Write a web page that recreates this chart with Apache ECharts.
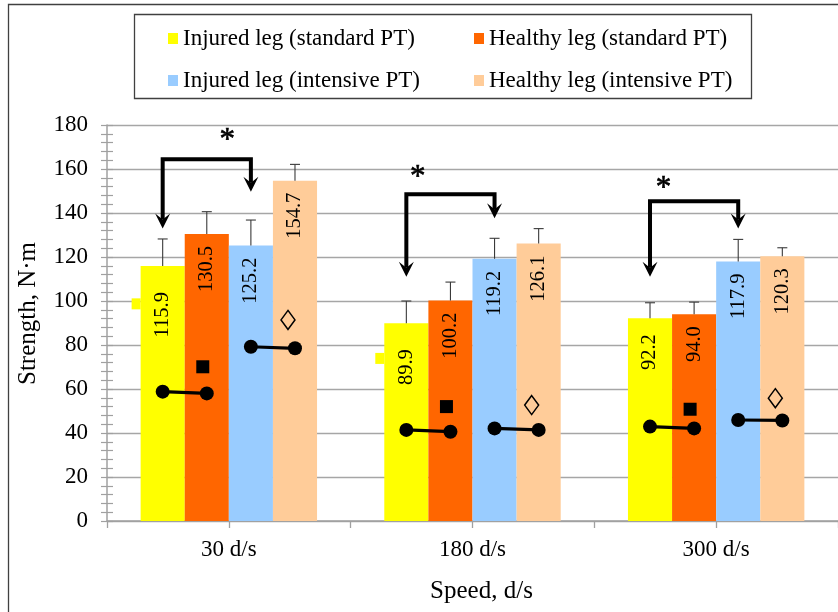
<!DOCTYPE html>
<html><head><meta charset="utf-8">
<script src="https://cdn.jsdelivr.net/npm/echarts@6/dist/echarts.min.js"></script>
<style>html,body{margin:0;padding:0;background:#fff}#c{width:838px;height:612px}</style>
</head><body><div id="c"></div>
<script>
// ---------- data ----------
const categories = ['30 d/s', '180 d/s', '300 d/s'];
const seriesNames = ['Injured leg (standard PT)', 'Healthy leg (standard PT)', 'Injured leg (intensive PT)', 'Healthy leg (intensive PT)'];
const injuredStd = [115.9, 89.9, 92.2];
const healthyStd = [130.5, 100.2, 94.0];
const injuredInt = [125.2, 119.2, 117.9];
const healthyInt = [154.7, 126.1, 120.3];
const errTopInjuredStd = [128.2, 100.0, 99.2];
const errTopHealthyStd = [140.6, 108.6, 99.5];
const errTopInjuredInt = [136.8, 128.5, 128.0];
const errTopHealthyInt = [162.1, 132.9, 124.2];
const stdPairLeft = [58.8, 41.4, 42.9];
const stdPairRight = [58.0, 40.6, 42.1];
const intPairLeft = [79.2, 42.1, 45.9];
const intPairRight = [78.5, 41.4, 45.7];
const squareMarks = [70.1, 52.0, 50.8];
const diamondMarks = [91.4, 52.7, 55.8];
const yellowTabs = [98.7, 73.9, null];
const bracketTop = [164.4, 148.5, 145.3];
const bracketLeftTip = [133.0, 111.0, 111.0];
const bracketRightTip = [149.7, 137.6, 133.0];
const asteriskX = [0.494, 1.275, 2.284];
const asteriskY = [175.5, 158.8, 153.8];
const yMin = 0, yMax = 180, yInterval = 20;

// ---------- style ----------
const FONT = 'Liberation Serif';
const colors = ['#FFFF00', '#FF6600', '#99CCFF', '#FFCC99'];
const BW = 0.181; // bar width as fraction of category
const labelGapInjuredStd = [26, 26, 16];
const slotX = (g, s) => g + 0.5 + (s - 1.5) * BW;

const barValues = [injuredStd, healthyStd, injuredInt, healthyInt];
const errTops = [errTopInjuredStd, errTopHealthyStd, errTopInjuredInt, errTopHealthyInt];

const barSeries = barValues.map((vals, s) => ({
  type: 'bar', name: seriesNames[s], xAxisIndex: 0, yAxisIndex: 0,
  barWidth: (BW * 100) + '%', barGap: '0%',
  itemStyle: { color: colors[s] },
  z: 2,
  label: {
    show: true, position: 'insideTop', rotate: 90, align: 'right', verticalAlign: 'middle',
    distance: 12, fontFamily: FONT, fontSize: 20.5, color: '#000',
    formatter: p => Number(p.value).toFixed(1)
  },
  data: vals.map((v, g) => s === 0 ? { value: v, label: { distance: labelGapInjuredStd[g] } } : v)
}));

const errData = [];
errTops.forEach((arr, s) => arr.forEach((t, g) => errData.push([slotX(g, s), barValues[s][g], t])));

const pairData = [];
for (let g = 0; g < 3; g++) {
  pairData.push([slotX(g, 0), stdPairLeft[g], slotX(g, 1), stdPairRight[g]]);
  pairData.push([slotX(g, 2), intPairLeft[g], slotX(g, 3), intPairRight[g]]);
}
const bracketData = bracketTop.map((t, g) => [slotX(g, 0), slotX(g, 2), t, bracketLeftTip[g], bracketRightTip[g]]);

const option = {
  animation: false,
  backgroundColor: '#fff',
  grid: { left: 107, right: -5, top: 125, bottom: 91 },
  graphic: [
    { type: 'rect', shape: { x: 8.5, y: 4.5, width: 900, height: 700 }, style: { fill: 'none', stroke: '#404040', lineWidth: 1.3 }, silent: true },
    { type: 'rect', shape: { x: 134.5, y: 14.5, width: 617, height: 84 }, style: { fill: 'none', stroke: '#404040', lineWidth: 1.3 }, silent: true }
  ],
  legend: [
    { data: [seriesNames[0], seriesNames[2]], orient: 'vertical', left: 163, top: 22, itemWidth: 10, itemHeight: 11, itemGap: 19, icon: 'rect',
      textStyle: { fontFamily: FONT, fontSize: 23, color: '#000' } },
    { data: [seriesNames[1], seriesNames[3]], orient: 'vertical', left: 469, top: 22, itemWidth: 10, itemHeight: 11, itemGap: 19, icon: 'rect',
      textStyle: { fontFamily: FONT, fontSize: 23, color: '#000' } }
  ],
  xAxis: [
    { type: 'category', data: categories, position: 'bottom', boundaryGap: true,
      axisLine: { show: true, lineStyle: { color: '#a0a0a0', width: 1.5 } },
      axisTick: { show: false },
      axisLabel: { fontFamily: FONT, fontSize: 23, color: '#000', margin: 17 },
      name: 'Speed, d/s', nameLocation: 'middle', nameGap: 58,
      nameTextStyle: { fontFamily: FONT, fontSize: 25, color: '#000', padding: [0, 0, 0, 18] } },
    { type: 'category', data: ['', '', '', '', '', ''], position: 'bottom', boundaryGap: true,
      axisLine: { show: false }, axisLabel: { show: false },
      axisTick: { show: true, interval: 0, length: 7, lineStyle: { color: '#a0a0a0', width: 1.3 } } },
    { type: 'value', min: 0, max: 3, position: 'bottom', show: false }
  ],
  yAxis: [
    { type: 'value', min: yMin, max: yMax, interval: yInterval, position: 'left',
      axisLine: { show: true, lineStyle: { color: '#a0a0a0', width: 1.5 } },
      axisTick: { show: true, length: 6, lineStyle: { color: '#a0a0a0', width: 1.2 } },
      minorTick: { show: true, splitNumber: 5, length: 6, lineStyle: { color: '#a0a0a0', width: 1.2 } },
      splitLine: { show: true, lineStyle: { color: '#a6a6a6', width: 1.3 } },
      axisLabel: { fontFamily: FONT, fontSize: 23, color: '#000', margin: 19 },
      name: 'Strength, N·m', nameLocation: 'middle', nameGap: 66,
      nameTextStyle: { fontFamily: FONT, fontSize: 25, color: '#000', padding: [0, 0, 0, 19] } },
    { type: 'value', min: yMin, max: yMax, interval: yInterval, position: 'left',
      axisLine: { show: false }, axisLabel: { show: false }, splitLine: { show: false },
      axisTick: { show: true, inside: true, length: 6, lineStyle: { color: '#a0a0a0', width: 1.2 } },
      minorTick: { show: true, splitNumber: 5, length: 6, lineStyle: { color: '#a0a0a0', width: 1.2 } } }
  ],
  series: barSeries.concat([
    { type: 'custom', name: 'err', xAxisIndex: 2, yAxisIndex: 0, z: 5, silent: true,
      data: errData,
      renderItem: (params, api) => {
        const p1 = api.coord([api.value(0), api.value(1)]);
        const p2 = api.coord([api.value(0), api.value(2)]);
        const st = { stroke: '#3a3a3a', lineWidth: 1.1 };
        return { type: 'group', children: [
          { type: 'line', shape: { x1: p1[0], y1: p1[1], x2: p2[0], y2: p2[1] }, style: st },
          { type: 'line', shape: { x1: p2[0] - 5, y1: p2[1], x2: p2[0] + 5, y2: p2[1] }, style: st }
        ] };
      } },
    { type: 'custom', name: 'pairs', xAxisIndex: 2, yAxisIndex: 0, z: 6, silent: true,
      data: pairData,
      renderItem: (params, api) => {
        const a = api.coord([api.value(0), api.value(1)]);
        const b = api.coord([api.value(2), api.value(3)]);
        return { type: 'group', children: [
          { type: 'line', shape: { x1: a[0], y1: a[1], x2: b[0], y2: b[1] }, style: { stroke: '#000', lineWidth: 3.2 } },
          { type: 'circle', shape: { cx: a[0], cy: a[1], r: 7 }, style: { fill: '#000' } },
          { type: 'circle', shape: { cx: b[0], cy: b[1], r: 7 }, style: { fill: '#000' } }
        ] };
      } },
    { type: 'custom', name: 'brackets', xAxisIndex: 2, yAxisIndex: 0, z: 7, silent: true,
      data: bracketData,
      renderItem: (params, api) => {
        const tl = api.coord([api.value(0), api.value(2)]);
        const tr = api.coord([api.value(1), api.value(2)]);
        const lt = api.coord([api.value(0), api.value(3)]);
        const rt = api.coord([api.value(1), api.value(4)]);
        const head = (p) => ({ type: 'polygon', shape: { points: [[p[0], p[1]], [p[0] - 7.5, p[1] - 15], [p[0], p[1] - 9], [p[0] + 7.5, p[1] - 15]] }, style: { fill: '#000' } });
        return { type: 'group', children: [
          { type: 'polyline', shape: { points: [[lt[0], lt[1] - 9], [tl[0], tl[1]], [tr[0], tr[1]], [rt[0], rt[1] - 9]] },
            style: { stroke: '#000', lineWidth: 4, lineJoin: 'miter', fill: 'none' } },
          head(lt), head(rt)
        ] };
      } },
    { type: 'custom', name: 'asterisks', xAxisIndex: 2, yAxisIndex: 0, z: 7, silent: true,
      data: asteriskX.map((x, i) => [x, asteriskY[i]]),
      renderItem: (params, api) => {
        const p = api.coord([api.value(0), api.value(1)]);
        return { type: 'text', x: p[0], y: p[1] + 6, style: { text: '*', font: '31px "Liberation Serif"', fill: '#000', align: 'center', verticalAlign: 'middle', stroke: '#000', lineWidth: 0.6 } };
      } },
    { type: 'scatter', name: 'squares', xAxisIndex: 2, yAxisIndex: 0, z: 6, silent: true,
      symbol: 'rect', symbolSize: 13, symbolOffset: [-4, 0], itemStyle: { color: '#000', opacity: 1 },
      data: squareMarks.map((v, g) => [slotX(g, 1), v]) },
    { type: 'scatter', name: 'diamonds', xAxisIndex: 2, yAxisIndex: 0, z: 6, silent: true,
      symbol: 'diamond', symbolSize: [14, 19], symbolOffset: [-7, 0],
      itemStyle: { color: 'rgba(0,0,0,0)', borderColor: '#000', borderWidth: 1.5, opacity: 1 },
      data: diamondMarks.map((v, g) => [slotX(g, 3), v]) },
    { type: 'scatter', name: 'tabs', xAxisIndex: 2, yAxisIndex: 0, z: 1, silent: true,
      symbol: 'rect', symbolSize: [9, 11], symbolOffset: [-4.5, 0], itemStyle: { color: '#FFFF00', opacity: 1 },
      data: yellowTabs.map((v, g) => v == null ? null : [slotX(g, 0) - BW / 2, v]).filter(d => d) }
  ])
};
const chart = echarts.init(document.getElementById('c'), null, { renderer: 'canvas' });
chart.setOption(option);
</script>
</body></html>
